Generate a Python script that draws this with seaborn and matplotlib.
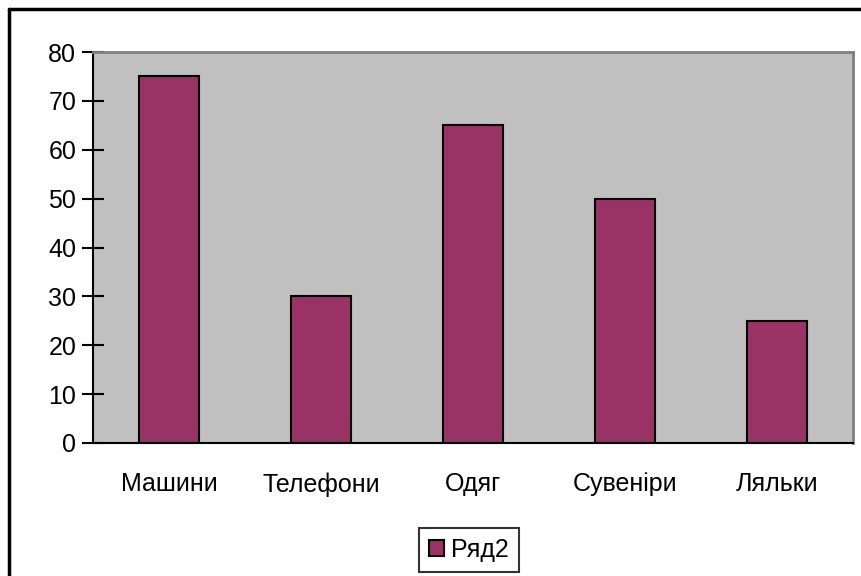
import matplotlib
matplotlib.use("Agg")
import matplotlib.pyplot as plt
import seaborn as sns
from matplotlib.lines import Line2D

# Дані
categories = ["Машини", "Телефони", "Одяг", "Сувеніри", "Ляльки"]
values = [75, 30, 65, 50, 25]
series_name = "Ряд2"
y_ticks = [0, 10, 20, 30, 40, 50, 60, 70, 80]

sns.set_style("white")
plt.rcParams["font.family"] = ["Liberation Sans", "DejaVu Sans"]
plt.rcParams["text.color"] = "black"
plt.rcParams["xtick.color"] = "black"
plt.rcParams["ytick.color"] = "black"
fs = 18

fig = plt.figure(figsize=(8.61, 5.76), dpi=100)
ax = fig.add_axes([93 / 861, 1 - 443 / 576, (853 - 93) / 861, (443 - 52) / 576])
ax.set_facecolor("#C0C0C0")

sns.barplot(x=categories, y=values, color="#993366", edgecolor="black",
            linewidth=1.5, width=0.39, saturation=1, label=series_name, ax=ax)

ax.set_xlim(-0.5, len(categories) - 0.5)
ax.set_ylim(0, 80)
ax.set_yticks(y_ticks)
ax.set_xticks([i - 0.5 for i in range(len(categories) + 1)], minor=False)
ax.set_xticklabels([])
ax.set_xticks(range(len(categories)), minor=True)
ax.set_xticklabels(categories, minor=True, fontsize=fs)
ax.tick_params(axis="x", which="minor", length=0, pad=21, labelcolor="black")
ax.tick_params(axis="x", which="major", direction="inout", length=16, width=1.5, color="black")
ax.tick_params(axis="y", direction="inout", length=16, width=1.5, color="black",
               labelsize=fs, pad=4, left=True, labelcolor="black")
ax.set_xlabel("")
ax.set_ylabel("")

for side in ["top", "right"]:
    ax.spines[side].set_color("#808080")
    ax.spines[side].set_linewidth(2)
for side in ["left", "bottom"]:
    ax.spines[side].set_color("black")
    ax.spines[side].set_linewidth(1.5)

leg = ax.legend(loc="center", bbox_to_anchor=(469 / 861, 26.5 / 576),
                bbox_transform=fig.transFigure, fontsize=fs, frameon=True,
                fancybox=False, edgecolor="black", handlelength=0.6,
                handleheight=0.6, handletextpad=0.3, borderpad=0.4,
                borderaxespad=0)
leg.get_frame().set_linewidth(1.5)

# рамка діаграми
fig.add_artist(Line2D([9 / 861, 9 / 861], [0, 1 - 9 / 576], color="black", lw=2.5,
                      transform=fig.transFigure))
fig.add_artist(Line2D([9 / 861, 1], [1 - 9 / 576, 1 - 9 / 576], color="black", lw=2.5,
                      transform=fig.transFigure))

fig.savefig("out.png", dpi=100)
